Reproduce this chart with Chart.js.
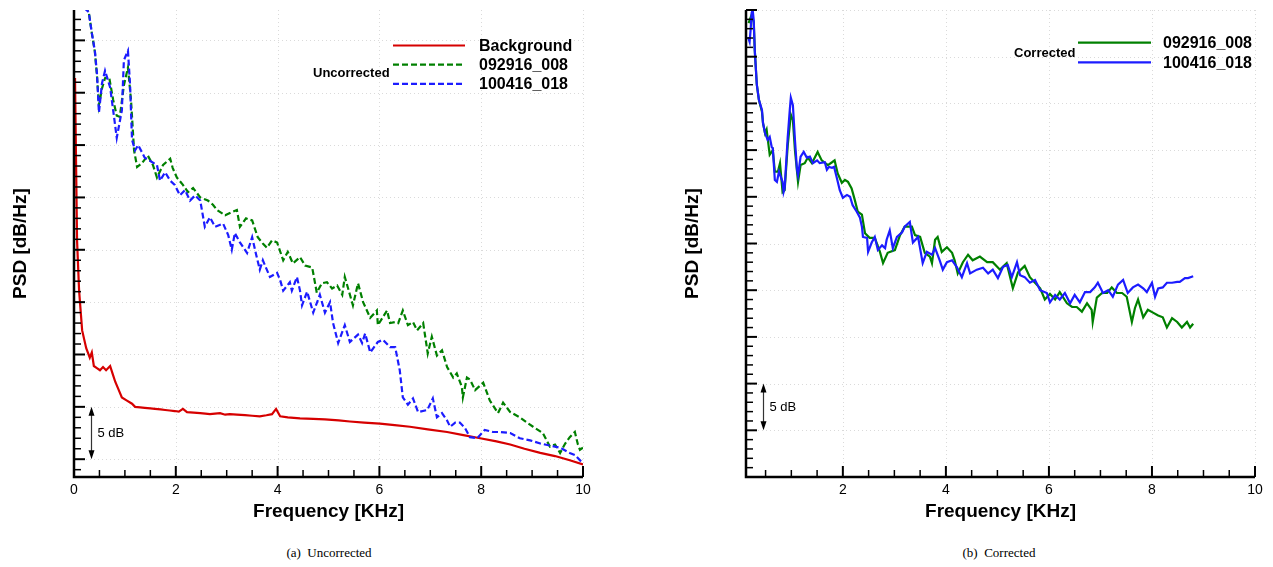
<!DOCTYPE html>
<html>
<head>
<meta charset="utf-8">
<title>PSD</title>
<script src="https://cdn.jsdelivr.net/npm/chart.js@4.4.1/dist/chart.umd.min.js"></script>
<style>
  body { margin: 0; background: #fff; }
  #wrap { position: relative; width: 1273px; height: 567px; background: #fff; }
  .pane { position: absolute; top: 0; height: 530px; }
  .cap {
    position: absolute; top: 545px; line-height: 16px;
    font: 13px "Liberation Serif", "Times New Roman", serif;
    color: #000; transform: translateX(-50%); white-space: pre;
  }
</style>
</head>
<body>
<div id="wrap">
  <div class="pane" style="left:0;width:640px"><canvas id="psdRaw"></canvas></div>
  <div class="pane" style="left:640px;width:633px"><canvas id="psdCorr"></canvas></div>
  <div class="cap" style="left:329px">(a)  Uncorrected</div>
  <div class="cap" style="left:999px">(b)  Corrected</div>
</div>
<script>
// [frequency KHz, PSD dB/Hz] — levels are relative, only the 5 dB bar gives the scale

// uncorrected spectra
const background = [
  [0.02,36.4],[0.04,28.5],[0.06,20.9],[0.10,16.1],[0.16,12.3],[0.24,10.6],[0.31,9.7],[0.35,10.2],
  [0.39,8.9],[0.45,8.7],[0.51,8.5],[0.57,8.8],[0.63,8.5],[0.71,8.9],[0.75,8.3],[0.81,7.4],
  [0.88,6.6],[0.94,5.9],[1.04,5.6],[1.14,5.3],[1.20,5.0],[1.30,4.95],[1.39,4.9],[1.50,4.85],
  [1.59,4.8],[1.70,4.75],[1.79,4.7],[1.88,4.65],[1.98,4.6],[2.06,4.55],[2.14,4.8],[2.22,4.5],
  [2.35,4.45],[2.48,4.4],[2.58,4.35],[2.67,4.3],[2.77,4.35],[2.87,4.4],[2.97,4.25],[3.06,4.3],
  [3.20,4.25],[3.36,4.2],[3.50,4.15],[3.65,4.1],[3.78,4.2],[3.89,4.3],[3.97,4.8],[4.05,4.1],
  [4.20,4.0],[4.44,3.9],[4.70,3.85],[4.93,3.8],[5.20,3.7],[5.42,3.6],[5.70,3.5],[6.01,3.4],
  [6.30,3.25],[6.60,3.1],[6.95,2.85],[7.33,2.6],[7.65,2.3],[7.98,2.0],[8.30,1.7],[8.57,1.4],
  [8.85,1.0],[9.16,0.6],[9.45,0.3],[9.74,-0.1],[10.0,-0.5]
];
const raw008 = [
  [0.22,43.3],[0.29,42.7],[0.35,40.7],[0.41,38.9],[0.45,36.7],[0.49,33.8],[0.55,35.4],[0.61,36.4],
  [0.69,36.5],[0.77,34.3],[0.84,32.8],[0.90,32.7],[0.98,35.7],[1.06,37.4],[1.12,34.3],[1.18,29.5],
  [1.24,27.9],[1.34,28.3],[1.45,29.0],[1.55,28.1],[1.63,26.9],[1.75,28.1],[1.89,28.7],[1.94,27.8],
  [2.02,26.9],[2.14,26.2],[2.24,25.5],[2.34,25.9],[2.48,25.0],[2.63,24.7],[2.73,24.3],[2.81,23.8],
  [2.97,23.3],[3.10,23.6],[3.20,23.8],[3.26,22.2],[3.38,23.0],[3.50,22.8],[3.61,21.2],[3.71,20.6],
  [3.79,20.2],[3.89,20.9],[3.99,20.7],[4.11,19.0],[4.20,19.8],[4.30,18.7],[4.44,19.3],[4.54,18.5],
  [4.68,18.3],[4.77,15.9],[4.87,16.8],[4.97,16.9],[5.07,16.3],[5.17,16.6],[5.27,15.7],[5.32,17.4],
  [5.38,16.4],[5.48,14.7],[5.58,16.8],[5.68,15.0],[5.82,13.5],[5.95,14.2],[5.97,12.8],[6.15,14.2],
  [6.21,13.0],[6.31,13.1],[6.37,13.0],[6.46,14.2],[6.56,12.8],[6.66,13.1],[6.74,12.3],[6.86,13.0],
  [6.95,10.1],[7.03,11.7],[7.13,9.9],[7.23,10.4],[7.33,8.8],[7.45,7.8],[7.52,8.2],[7.62,6.9],
  [7.64,5.9],[7.72,7.8],[7.78,7.6],[7.88,6.6],[8.04,7.3],[8.17,5.6],[8.33,4.4],[8.43,5.4],
  [8.57,4.5],[8.76,4.0],[8.90,3.5],[9.02,3.1],[9.21,2.5],[9.35,1.2],[9.45,1.4],[9.55,0.6],
  [9.65,1.5],[9.74,2.1],[9.84,2.6],[9.90,1.4],[9.94,0.9],[10.0,1.1]
];
const raw018 = [
  [0.20,43.1],[0.29,42.7],[0.35,40.7],[0.41,39.0],[0.45,36.9],[0.49,33.1],[0.55,35.9],[0.61,37.1],
  [0.71,35.5],[0.77,33.3],[0.84,30.7],[0.94,33.3],[0.98,38.1],[1.06,39.0],[1.10,35.9],[1.14,30.5],
  [1.20,29.5],[1.26,30.0],[1.39,28.8],[1.49,28.5],[1.63,28.1],[1.69,26.6],[1.79,27.4],[1.89,26.6],
  [1.98,26.2],[2.08,25.2],[2.18,25.7],[2.28,24.7],[2.38,25.2],[2.48,24.7],[2.57,22.2],[2.67,23.1],
  [2.77,22.2],[2.93,22.5],[3.03,21.4],[3.10,20.0],[3.16,21.6],[3.26,20.7],[3.40,19.7],[3.50,21.2],
  [3.58,19.5],[3.65,18.1],[3.71,19.0],[3.85,17.4],[3.99,17.8],[4.05,17.1],[4.11,16.1],[4.24,16.9],
  [4.28,16.1],[4.38,17.4],[4.44,16.1],[4.48,14.7],[4.58,16.0],[4.70,14.0],[4.83,15.7],[4.93,14.0],
  [5.03,15.0],[5.09,13.0],[5.19,11.1],[5.32,12.8],[5.42,11.2],[5.58,11.9],[5.66,11.1],[5.72,12.0],
  [5.82,10.2],[5.97,11.2],[6.07,11.4],[6.21,10.7],[6.31,10.7],[6.40,8.5],[6.46,5.9],[6.56,5.2],
  [6.66,5.8],[6.76,4.5],[6.94,4.7],[7.05,5.8],[7.13,4.0],[7.23,4.4],[7.33,3.7],[7.39,3.1],
  [7.49,3.5],[7.58,3.5],[7.68,3.0],[7.78,2.1],[7.92,2.0],[8.07,2.8],[8.23,2.6],[8.37,2.6],
  [8.57,2.5],[8.76,2.0],[8.96,1.8],[9.16,1.5],[9.35,1.3],[9.55,1.1],[9.74,0.6],[9.84,0.4],[10.0,-0.4]
];

// background-corrected spectra
const corr008 = [
  [0.17,48.6],[0.23,49.5],[0.27,48.7],[0.29,45.7],[0.33,42.0],[0.37,40.4],[0.43,39.1],[0.45,37.9],
  [0.49,36.8],[0.52,37.2],[0.58,34.5],[0.64,35.0],[0.68,32.7],[0.74,32.7],[0.78,33.6],[0.83,30.5],
  [0.87,30.7],[0.93,35.5],[0.99,38.8],[1.03,38.2],[1.07,35.0],[1.13,31.6],[1.18,33.4],[1.26,33.6],
  [1.32,34.2],[1.40,33.6],[1.51,34.8],[1.59,33.9],[1.71,33.4],[1.79,33.7],[1.84,33.9],[1.90,32.5],
  [1.98,31.5],[2.04,31.8],[2.10,31.6],[2.17,30.9],[2.23,29.7],[2.29,28.4],[2.37,28.1],[2.43,26.1],
  [2.52,25.6],[2.62,25.6],[2.72,24.1],[2.78,22.9],[2.87,24.0],[3.01,24.3],[3.11,25.9],[3.20,26.8],
  [3.34,26.8],[3.40,25.9],[3.50,25.7],[3.59,24.0],[3.69,23.6],[3.73,22.9],[3.79,25.4],[3.84,25.7],
  [3.92,24.1],[4.02,24.6],[4.12,24.0],[4.17,23.2],[4.23,21.8],[4.33,23.0],[4.43,23.8],[4.52,23.2],
  [4.66,23.6],[4.80,23.0],[4.91,23.0],[5.05,22.2],[5.18,22.9],[5.30,20.2],[5.40,21.9],[5.53,22.6],
  [5.63,21.4],[5.73,20.8],[5.83,20.2],[5.92,19.0],[6.02,19.6],[6.12,19.0],[6.21,19.8],[6.35,18.6],
  [6.45,18.2],[6.54,18.2],[6.64,17.7],[6.74,18.6],[6.83,17.9],[6.85,16.6],[6.93,19.2],[7.03,19.7],
  [7.13,19.7],[7.22,20.3],[7.32,19.7],[7.42,19.7],[7.51,19.3],[7.61,16.6],[7.67,18.1],[7.73,19.0],
  [7.83,17.1],[7.92,17.9],[8.02,17.6],[8.12,17.3],[8.21,17.1],[8.29,16.0],[8.39,17.0],[8.49,16.6],
  [8.58,16.0],[8.68,16.6],[8.74,16.0],[8.80,16.4]
];
const corr018 = [
  [0.16,47.1],[0.19,46.6],[0.21,47.9],[0.23,49.7],[0.25,50.0],[0.27,48.9],[0.29,45.7],[0.33,42.0],
  [0.37,40.4],[0.43,39.3],[0.45,37.9],[0.49,36.8],[0.54,36.1],[0.58,36.4],[0.62,35.3],[0.64,35.2],
  [0.68,31.8],[0.72,31.6],[0.76,32.7],[0.83,31.6],[0.85,30.5],[0.87,30.9],[0.93,36.4],[0.97,39.3],
  [0.99,40.6],[1.03,39.8],[1.07,36.1],[1.11,32.9],[1.13,32.3],[1.18,34.3],[1.24,34.8],[1.30,34.2],
  [1.36,34.3],[1.42,33.6],[1.50,33.9],[1.55,33.6],[1.65,33.7],[1.69,32.9],[1.73,33.2],[1.79,33.1],
  [1.83,33.2],[1.88,32.1],[1.94,30.7],[2.00,29.9],[2.08,30.2],[2.14,30.0],[2.19,29.1],[2.27,28.4],
  [2.33,27.8],[2.37,26.8],[2.39,25.7],[2.47,25.6],[2.49,24.1],[2.56,25.1],[2.62,25.7],[2.68,24.3],
  [2.76,24.8],[2.82,24.5],[2.85,25.4],[2.91,26.4],[2.97,24.5],[3.05,25.7],[3.15,26.2],[3.20,26.8],
  [3.30,27.3],[3.36,25.1],[3.46,25.7],[3.55,22.9],[3.63,24.1],[3.73,23.8],[3.79,24.5],[3.88,23.2],
  [3.94,22.2],[4.02,23.0],[4.12,23.2],[4.21,22.5],[4.31,21.4],[4.41,22.9],[4.47,21.8],[4.60,22.2],
  [4.72,22.4],[4.82,21.8],[4.91,22.2],[5.01,21.3],[5.11,22.5],[5.20,22.7],[5.28,21.4],[5.38,23.0],
  [5.44,21.6],[5.53,21.4],[5.63,20.8],[5.73,21.1],[5.83,20.0],[5.96,19.7],[6.02,18.7],[6.12,19.5],
  [6.21,19.0],[6.31,19.7],[6.41,18.6],[6.50,19.5],[6.60,18.7],[6.70,19.8],[6.80,19.8],[6.89,20.3],
  [6.95,20.8],[7.05,19.7],[7.15,20.0],[7.24,19.3],[7.34,20.6],[7.44,21.1],[7.53,19.7],[7.63,20.3],
  [7.73,20.6],[7.83,20.2],[7.90,19.8],[8.00,20.8],[8.06,19.3],[8.12,20.2],[8.21,20.3],[8.29,20.8],
  [8.39,20.8],[8.49,20.9],[8.54,20.9],[8.64,21.3],[8.70,21.3],[8.80,21.5]
];

const runLabels = ['092916_008', '100416_018'];

const SANS = '"Liberation Sans", Arial, Helvetica, sans-serif';
Chart.defaults.font.family = SANS;
Chart.defaults.color = '#000';

const toXY = pts => pts.map(p => ({ x: p[0], y: p[1] }));
const isMajor = (v, step) => Math.abs(v % step) < 1e-6;

// dotted grid under the curves, inward ticks + heavy axis lines on top
const tecAxes = {
  id: 'tecAxes',
  beforeDatasetsDraw(chart, args, o) {
    const { ctx, chartArea: a, scales: { x, y } } = chart;
    ctx.save();
    ctx.strokeStyle = '#dadada';
    ctx.lineWidth = 1;
    ctx.setLineDash([1, 3]);
    ctx.beginPath();
    x.ticks.forEach(t => {
      if (!isMajor(t.value, o.xMajor)) return;
      const px = Math.round(x.getPixelForValue(t.value)) + 0.5;
      ctx.moveTo(px, a.top); ctx.lineTo(px, a.bottom);
    });
    y.ticks.forEach(t => {
      if (!isMajor(t.value, o.yMajor)) return;
      const py = Math.round(y.getPixelForValue(t.value)) + 0.5;
      ctx.moveTo(a.left, py); ctx.lineTo(a.right, py);
    });
    ctx.stroke();
    ctx.restore();
  },
  afterDatasetsDraw(chart, args, o) {
    const { ctx, chartArea: a, scales: { x, y } } = chart;
    ctx.save();
    ctx.strokeStyle = '#000';
    x.ticks.forEach(t => {
      const big = isMajor(t.value, o.xMajor);
      const px = x.getPixelForValue(t.value);
      ctx.lineWidth = big ? 2 : 1.5;
      ctx.beginPath();
      ctx.moveTo(px, a.bottom);
      ctx.lineTo(px, a.bottom - (big ? 11 : 7));
      ctx.stroke();
    });
    y.ticks.forEach(t => {
      const big = isMajor(t.value, o.yMajor);
      const py = y.getPixelForValue(t.value);
      ctx.lineWidth = big ? 2 : 1.5;
      ctx.beginPath();
      ctx.moveTo(a.left, py);
      ctx.lineTo(a.left + (big ? 11 : 7), py);
      ctx.stroke();
    });
    ctx.lineWidth = 2.5;
    ctx.beginPath();
    ctx.moveTo(a.left, a.top);
    ctx.lineTo(a.left, a.bottom);
    ctx.lineTo(a.right, a.bottom);
    ctx.stroke();
    ctx.restore();
  }
};

// vertical "5 dB" reference bar
const dbBar = {
  id: 'dbBar',
  afterDatasetsDraw(chart, args, o) {
    const { ctx, scales: { x, y } } = chart;
    const px = Math.round(x.getPixelForValue(o.at)) + 0.5;
    const top = y.getPixelForValue(o.to);
    const bot = y.getPixelForValue(o.from);
    ctx.save();
    ctx.strokeStyle = '#333';
    ctx.fillStyle = '#000';
    ctx.lineWidth = 1.2;
    ctx.beginPath();
    ctx.moveTo(px, top + 6); ctx.lineTo(px, bot - 6);
    ctx.stroke();
    ctx.beginPath();
    ctx.moveTo(px, top); ctx.lineTo(px - 3, top + 9); ctx.lineTo(px + 3, top + 9); ctx.closePath();
    ctx.moveTo(px, bot); ctx.lineTo(px - 3, bot - 9); ctx.lineTo(px + 3, bot - 9); ctx.closePath();
    ctx.fill();
    ctx.font = '13px ' + SANS;
    ctx.textBaseline = 'middle';
    ctx.fillText(o.text, px + 6, (top + bot) / 2);
    ctx.restore();
  }
};

// boxed-less key: group heading on the left, then a sample line + name per run
const keyLines = {
  id: 'keyLines',
  afterDraw(chart, args, o) {
    const { ctx } = chart;
    ctx.save();
    ctx.fillStyle = '#000';
    ctx.textBaseline = 'middle';
    ctx.font = 'bold 13px ' + SANS;
    ctx.fillText(o.heading, o.headX, o.headY);
    chart.data.datasets.forEach((ds, i) => {
      const ly = o.y0 + i * o.dy;
      ctx.strokeStyle = ds.borderColor;
      ctx.lineWidth = ds.borderWidth;
      ctx.setLineDash(ds.borderDash || []);
      ctx.beginPath();
      ctx.moveTo(o.x0, ly); ctx.lineTo(o.x1, ly);
      ctx.stroke();
      ctx.setLineDash([]);
      ctx.font = 'bold 16px ' + SANS;
      ctx.fillText(ds.label, o.textX, ly + 1);
    });
    ctx.restore();
  }
};

const RED = 'rgb(214,0,0)';
const GREEN = 'rgb(0,128,0)';
const BLUE = 'rgb(28,28,255)';

function line(label, pts, color, dashed, order) {
  return {
    label, data: toXY(pts), borderColor: color, backgroundColor: color,
    borderWidth: 2.2, borderDash: dashed ? [6, 3] : [],
    pointRadius: 0, tension: 0, fill: false, order
  };
}

function axes(xMin, yMin, yMax, yWidth, yTitlePad) {
  return {
    x: {
      type: 'linear', min: xMin, max: 10,
      grid: { display: false }, border: { display: false },
      ticks: {
        stepSize: 0.5, includeBounds: false, autoSkip: false, maxRotation: 0,
        maxTicksLimit: 100, padding: -3, font: { size: 14 },
        callback: v => (isMajor(v, 2) ? v : '')
      },
      title: {
        display: true, text: 'Frequency [KHz]',
        font: { size: 19, weight: 'bold' }, padding: { top: 0, bottom: 7 }
      },
      afterFit: s => { s.height = 53; }
    },
    y: {
      type: 'linear', min: yMin, max: yMax,
      grid: { display: false }, border: { display: false },
      ticks: { display: false, stepSize: 1, includeBounds: false, maxTicksLimit: 100 },
      title: {
        display: true, text: 'PSD [dB/Hz]',
        font: { size: 19, weight: 'bold' }, padding: { top: yTitlePad, bottom: 0 }
      },
      afterFit: s => { s.width = yWidth; }
    }
  };
}

new Chart(document.getElementById('psdRaw'), {
  type: 'line',
  data: {
    datasets: [
      line('Background', background, RED, false, 2),
      line(runLabels[0], raw008, GREEN, true, 1),
      line(runLabels[1], raw018, BLUE, true, 0)
    ]
  },
  options: {
    responsive: true, maintainAspectRatio: false, animation: false,
    layout: { padding: { top: 10, right: 57, left: 0, bottom: 0 } },
    scales: axes(0, -1.7, 42.9, 74, 9),
    plugins: {
      legend: { display: false }, tooltip: { enabled: false },
      tecAxes: { xMajor: 2, yMajor: 5 },
      dbBar: { at: 0.33, from: 0, to: 5, text: '5 dB' },
      keyLines: { heading: 'Uncorrected', headX: 313, headY: 73, x0: 393, x1: 465, y0: 45.5, dy: 19.2, textX: 479 }
    }
  },
  plugins: [tecAxes, dbBar, keyLines]
});

new Chart(document.getElementById('psdCorr'), {
  type: 'line',
  data: {
    datasets: [
      line(runLabels[0], corr008, GREEN, false, 1),
      line(runLabels[1], corr018, BLUE, false, 0)
    ]
  },
  options: {
    responsive: true, maintainAspectRatio: false, animation: false,
    layout: { padding: { top: 10, right: 18, left: 0, bottom: 0 } },
    scales: axes(0.12, 0, 50, 106, 41),
    plugins: {
      legend: { display: false }, tooltip: { enabled: false },
      tecAxes: { xMajor: 2, yMajor: 5 },
      dbBar: { at: 0.45, from: 5, to: 10, text: '5 dB' },
      keyLines: { heading: 'Corrected', headX: 374, headY: 53, x0: 438, x1: 511, y0: 42.7, dy: 19.6, textX: 523 }
    }
  },
  plugins: [tecAxes, dbBar, keyLines]
});
</script>
</body>
</html>
